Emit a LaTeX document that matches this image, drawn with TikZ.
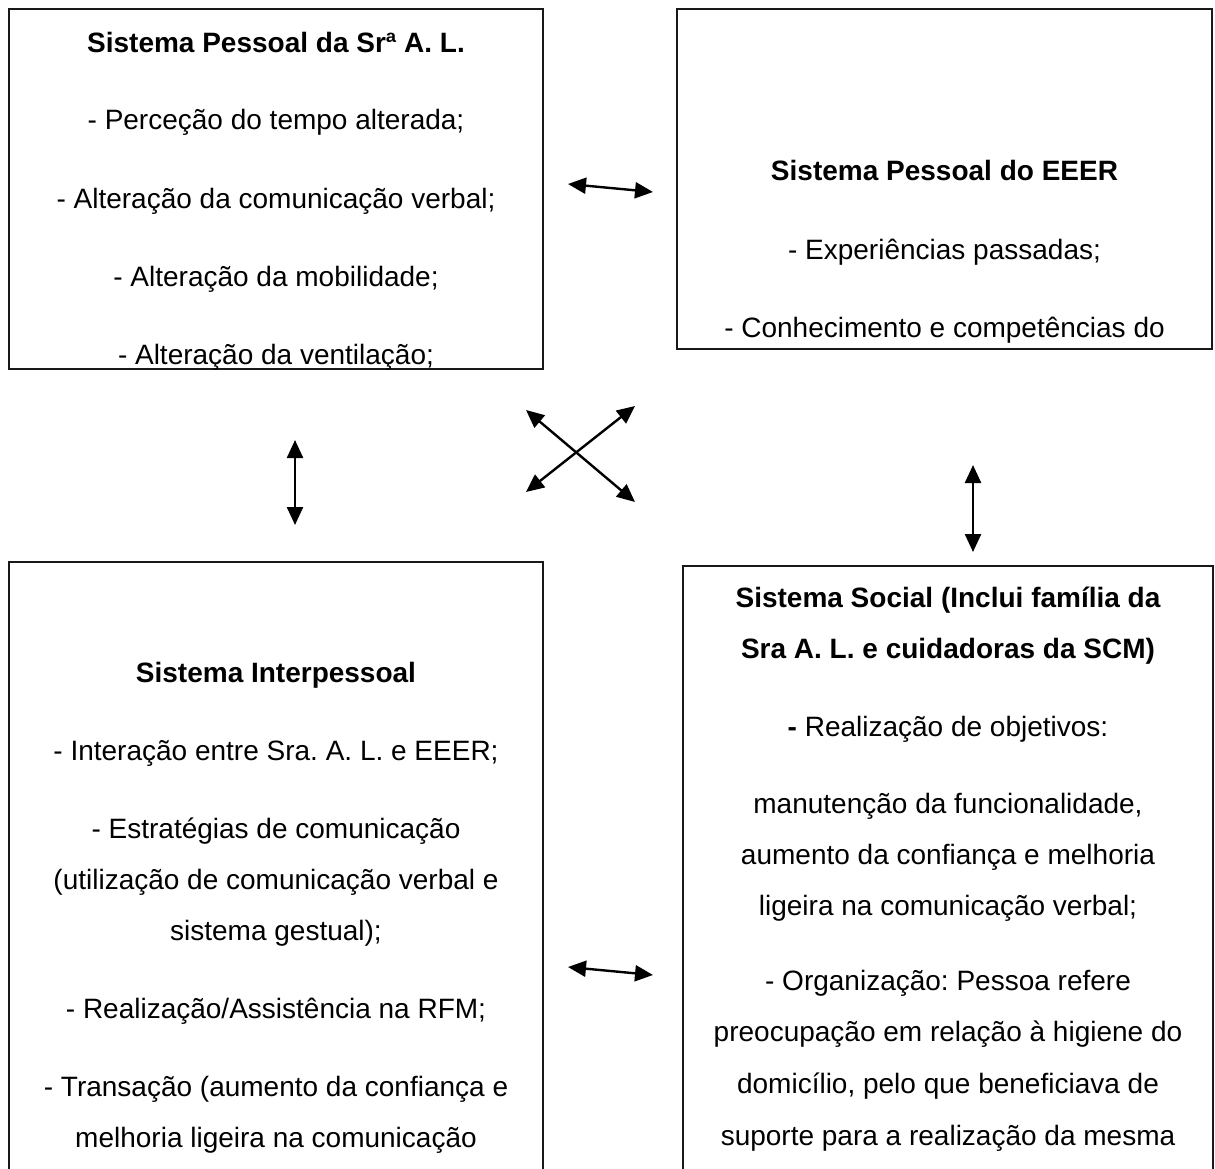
\documentclass[tikz,border=0pt]{standalone}
\usepackage{fontspec}
\setmainfont{Liberation Sans}
\usetikzlibrary{arrows.meta}
\frenchspacing
\begin{document}
\begin{tikzpicture}[x=1pt,y=-1pt,
  frame/.style={draw=black!90, line width=2pt, inner sep=0pt, outer sep=0pt, anchor=north west},
  txt/.style={anchor=base, inner sep=0pt, font=\fontsize{28}{34}\selectfont},
  head/.style={anchor=base, inner sep=0pt, font=\fontsize{28}{34}\selectfont\bfseries},
  link/.style={line width=2.4pt,
    {Triangle[length=18pt,width=16pt]}-{Triangle[length=18pt,width=16pt]}}]

\useasboundingbox (0,0) rectangle (1215,1169);
\clip (0,0) rectangle (1215,1169);

% ---- frames of the four systems ----
\node[frame, minimum width=534pt, minimum height=360pt] (pessoalAL) at (9,9) {};
\node[frame, minimum width=535pt, minimum height=340pt] (pessoalEEER) at (677,9) {};
\node[frame, minimum width=534pt, minimum height=700pt] (interpessoal) at (9,562) {};
\node[frame, minimum width=530pt, minimum height=700pt] (social) at (683,566) {};

% ---- personal system of the client ----
\begin{scope}
  \clip (pessoalAL.north west) rectangle (pessoalAL.south east);
  \node[head] (al0) at (276,53) {Sistema Pessoal da Srª A. L.};
  \node[txt]  (al1) at (276,130) {- Perceção do tempo alterada;};
  \node[txt]  (al2) at (276,208) {- Alteração da comunicação verbal;};
  \node[txt]  (al3) at (276,286) {- Alteração da mobilidade;};
  \node[txt]  (al4) at (276,364) {- Alteração da ventilação;};
\end{scope}

% ---- personal system of the nurse ----
\begin{scope}
  \clip (pessoalEEER.north west) rectangle (pessoalEEER.south east);
  \node[head] (ee0) at (944.5,181) {Sistema Pessoal do EEER};
  \node[txt]  (ee1) at (944.5,259) {- Experiências passadas;};
  \node[txt]  (ee2) at (944.5,337) {- Conhecimento e competências do};
\end{scope}

% ---- interpersonal system ----
\begin{scope}
  \clip (interpessoal.north west) rectangle (interpessoal.south east);
  \node[head] (ip0) at (276,682) {Sistema Interpessoal};
  \node[txt]  (ip1) at (276,760) {- Interação entre Sra. A. L. e EEER;};
  \node[txt]  (ip2) at (276,838) {- Estratégias de comunicação};
  \node[txt]  (ip3) at (276,889) {(utilização de comunicação verbal e};
  \node[txt]  (ip4) at (276,940) {sistema gestual);};
  \node[txt]  (ip5) at (276,1018) {- Realização/Assistência na RFM;};
  \node[txt]  (ip6) at (276,1096) {- Transação (aumento da confiança e};
  \node[txt]  (ip7) at (276,1147) {melhoria ligeira na comunicação};
\end{scope}

% ---- social system ----
\begin{scope}
  \clip (social.north west) rectangle (social.south east);
  \node[head] (so0) at (948,607) {Sistema Social (Inclui família da};
  \node[head] (so1) at (948,658) {Sra A. L. e cuidadoras da SCM)};
  \node[txt]  (so2) at (948,736) {{\bfseries -} Realização de objetivos:};
  \node[txt]  (so3) at (948,813) {manutenção da funcionalidade,};
  \node[txt]  (so4) at (948,864) {aumento da confiança e melhoria};
  \node[txt]  (so5) at (948,915) {ligeira na comunicação verbal;};
  \node[txt]  (so6) at (948,990) {- Organização: Pessoa refere};
  \node[txt]  (so7) at (948,1041) {preocupação em relação à higiene do};
  \node[txt]  (so8) at (948,1093) {domicílio, pelo que beneficiava de};
  \node[txt]  (so9) at (948,1145) {suporte para a realização da mesma};
\end{scope}

% ---- arrow end points ----
\coordinate (tl) at (568,184);  \coordinate (tr) at (653,192);
\coordinate (bl) at (568,967);  \coordinate (br) at (653,975);
\coordinate (vlt) at (295,440); \coordinate (vlb) at (295,525);
\coordinate (vrt) at (973,465); \coordinate (vrb) at (973,552);
\coordinate (xa1) at (526,410); \coordinate (xa2) at (635,502);
\coordinate (xb1) at (526,492); \coordinate (xb2) at (635,406);

% ---- interactions ----
\draw[link] (tl) -- (tr);
\draw[link] (bl) -- (br);
\draw[link] (vlt) -- (vlb);
\draw[link] (vrt) -- (vrb);
\draw[link] (xa1) -- (xa2);
\draw[link] (xb1) -- (xb2);

\end{tikzpicture}
\end{document}
